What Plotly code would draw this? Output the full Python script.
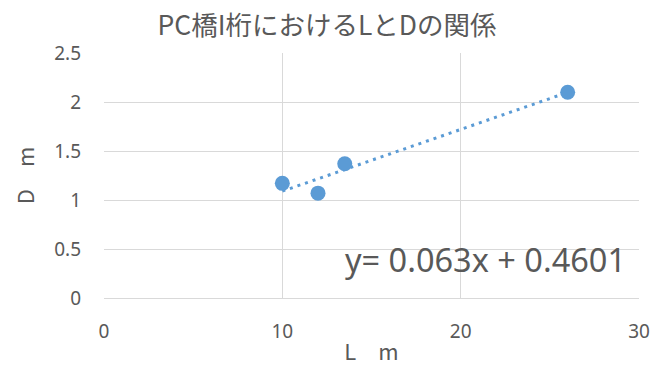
import plotly.graph_objects as go

# data
L_m = [10, 12, 13.5, 26]
D_m = [1.17, 1.07, 1.37, 2.10]
trend_slope = 0.063
trend_intercept = 0.4601
trend_x = [min(L_m), max(L_m)]
trend_y = [trend_slope * x + trend_intercept for x in trend_x]
x_ticks = [0, 10, 20, 30]
y_ticks = [0, 0.5, 1, 1.5, 2, 2.5]
y_tick_text = ["0", "0.5", "1", "1.5", "2", "2.5"]

blue = "#5B9BD5"
grid = "#D9D9D9"
txt = "#595959"
font_fam = "Noto Sans CJK JP, Noto Sans, sans-serif"
latin = "Noto Sans, sans-serif"

fig = go.Figure()
fig.add_trace(go.Scatter(x=trend_x, y=trend_y, mode="lines",
                         line=dict(color=blue, width=3, dash="3px,5px"),
                         hoverinfo="skip", showlegend=False))
fig.add_trace(go.Scatter(x=L_m, y=D_m, mode="markers",
                         marker=dict(color=blue, size=15),
                         showlegend=False))

fig.add_annotation(text="y= 0.063x + 0.4601", xref="paper", yref="paper",
                   x=0.447, y=0.159, xanchor="left", yanchor="middle",
                   showarrow=False, font=dict(size=32.5, color=txt, family=latin))

fig.update_layout(
    width=662, height=358,
    margin=dict(l=96, r=31, t=45, b=68),
    paper_bgcolor="white", plot_bgcolor="white",
    title=dict(text="PC橋I桁におけるLとDの関係", x=0.482, xanchor="center",
               y=0.95, yanchor="middle",
               font=dict(size=26.5, color=txt, family=font_fam)),
    font=dict(family=font_fam, color=txt),
)
fig.update_xaxes(range=[0, 30], tickvals=x_ticks, showgrid=True, gridcolor=grid,
                 gridwidth=1, showline=True, linecolor=grid, linewidth=1,
                 zeroline=False, ticks="", ticklabelstandoff=16, automargin=False,
                 tickfont=dict(size=19, color=txt, family=latin),
                 title=dict(text="L　m", font=dict(size=22, color=txt, family=font_fam),
                            standoff=4))
fig.update_yaxes(range=[0, 2.5], tickvals=y_ticks, ticktext=y_tick_text,
                 showgrid=True, gridcolor=grid, gridwidth=1,
                 showline=False, zeroline=True, zerolinecolor=grid, zerolinewidth=1,
                 ticks="", ticklabelstandoff=22, automargin=False,
                 tickfont=dict(size=19, color=txt, family=latin),
                 title=dict(text="D　m", font=dict(size=22, color=txt, family=font_fam),
                            standoff=16))

fig.write_html("out.html")
